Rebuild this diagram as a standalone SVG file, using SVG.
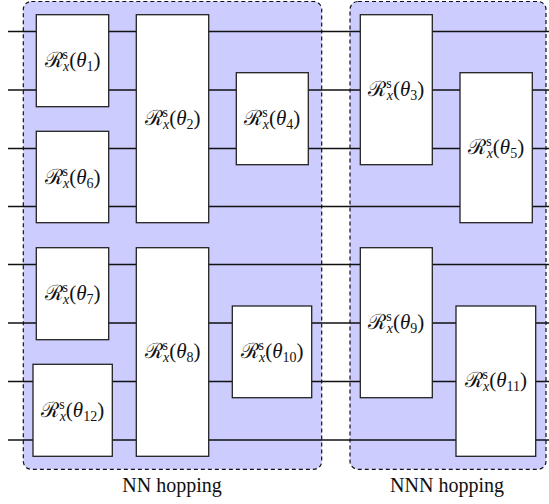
<svg xmlns="http://www.w3.org/2000/svg" width="549" height="504" viewBox="0 0 549 504">
<style>
.bg{fill:#ccccff;stroke:#111;stroke-width:1.2;stroke-dasharray:4 3}
.wire{stroke:#111;stroke-width:1.3;fill:none}
.gate{fill:#fff;stroke:#222;stroke-width:1.3}
text{font-family:'Liberation Serif','Times New Roman',Times,'DejaVu Serif',serif;fill:#111;text-anchor:middle}
.lbl{font-size:21px}
.sm{font-size:14px}
.it{font-style:italic}
.cap{font-size:20px}
</style>
<rect width="549" height="504" fill="#fff"/>
<g id="region-nn">
<rect class="bg" x="23.3" y="1.5" width="298.4" height="467.8" rx="8"/>
<text class="cap" x="172" y="492" font-family="Liberation Serif, serif">NN hopping</text>
</g>
<g id="region-nnn">
<rect class="bg" x="350" y="1.5" width="196" height="467.8" rx="8"/>
<text class="cap" x="447" y="492" font-family="Liberation Serif, serif">NNN hopping</text>
</g>
<g id="wires">
<line class="wire" x1="8" y1="31.5" x2="549" y2="31.5"/>
<line class="wire" x1="8" y1="90" x2="549" y2="90"/>
<line class="wire" x1="8" y1="148.5" x2="549" y2="148.5"/>
<line class="wire" x1="8" y1="206.5" x2="549" y2="206.5"/>
<line class="wire" x1="8" y1="264.5" x2="549" y2="264.5"/>
<line class="wire" x1="8" y1="323" x2="549" y2="323"/>
<line class="wire" x1="8" y1="381.5" x2="549" y2="381.5"/>
<line class="wire" x1="8" y1="440" x2="549" y2="440"/>
</g>
<g id="g1"><rect class="gate" x="36.3" y="14.7" width="72.4" height="92"/>
<text class="lbl" x="72.5" y="67">ℛ<tspan class="sm" dy="-8">s</tspan><tspan class="sm it" dx="-5" dy="12">x</tspan><tspan dy="-4">(</tspan><tspan class="it">θ</tspan><tspan class="sm" dy="4">1</tspan><tspan dy="-4">)</tspan></text></g>
<g id="g6"><rect class="gate" x="36.3" y="131.3" width="72.4" height="91.4"/>
<text class="lbl" x="72.5" y="184">ℛ<tspan class="sm" dy="-8">s</tspan><tspan class="sm it" dx="-5" dy="12">x</tspan><tspan dy="-4">(</tspan><tspan class="it">θ</tspan><tspan class="sm" dy="4">6</tspan><tspan dy="-4">)</tspan></text></g>
<g id="g2"><rect class="gate" x="136.3" y="14.7" width="72.4" height="208"/>
<text class="lbl" x="172.5" y="125">ℛ<tspan class="sm" dy="-8">s</tspan><tspan class="sm it" dx="-5" dy="12">x</tspan><tspan dy="-4">(</tspan><tspan class="it">θ</tspan><tspan class="sm" dy="4">2</tspan><tspan dy="-4">)</tspan></text></g>
<g id="g4"><rect class="gate" x="236.3" y="72.7" width="72" height="92"/>
<text class="lbl" x="272.3" y="125">ℛ<tspan class="sm" dy="-8">s</tspan><tspan class="sm it" dx="-5" dy="12">x</tspan><tspan dy="-4">(</tspan><tspan class="it">θ</tspan><tspan class="sm" dy="4">4</tspan><tspan dy="-4">)</tspan></text></g>
<g id="g3"><rect class="gate" x="360.3" y="14.7" width="72" height="150"/>
<text class="lbl" x="396.3" y="96">ℛ<tspan class="sm" dy="-8">s</tspan><tspan class="sm it" dx="-5" dy="12">x</tspan><tspan dy="-4">(</tspan><tspan class="it">θ</tspan><tspan class="sm" dy="4">3</tspan><tspan dy="-4">)</tspan></text></g>
<g id="g5"><rect class="gate" x="460" y="72.7" width="72.3" height="150"/>
<text class="lbl" x="496.2" y="154">ℛ<tspan class="sm" dy="-8">s</tspan><tspan class="sm it" dx="-5" dy="12">x</tspan><tspan dy="-4">(</tspan><tspan class="it">θ</tspan><tspan class="sm" dy="4">5</tspan><tspan dy="-4">)</tspan></text></g>
<g id="g7"><rect class="gate" x="36.3" y="247.7" width="72.4" height="92"/>
<text class="lbl" x="72.5" y="300">ℛ<tspan class="sm" dy="-8">s</tspan><tspan class="sm it" dx="-5" dy="12">x</tspan><tspan dy="-4">(</tspan><tspan class="it">θ</tspan><tspan class="sm" dy="4">7</tspan><tspan dy="-4">)</tspan></text></g>
<g id="g12"><rect class="gate" x="33" y="364.3" width="79.3" height="92"/>
<text class="lbl" x="72.7" y="417">ℛ<tspan class="sm" dy="-8">s</tspan><tspan class="sm it" dx="-5" dy="12">x</tspan><tspan dy="-4">(</tspan><tspan class="it">θ</tspan><tspan class="sm" dy="4">12</tspan><tspan dy="-4">)</tspan></text></g>
<g id="g8"><rect class="gate" x="136.3" y="247.7" width="72.4" height="208.6"/>
<text class="lbl" x="172.5" y="358">ℛ<tspan class="sm" dy="-8">s</tspan><tspan class="sm it" dx="-5" dy="12">x</tspan><tspan dy="-4">(</tspan><tspan class="it">θ</tspan><tspan class="sm" dy="4">8</tspan><tspan dy="-4">)</tspan></text></g>
<g id="g10"><rect class="gate" x="232.3" y="306" width="79.4" height="91.7"/>
<text class="lbl" x="272" y="358">ℛ<tspan class="sm" dy="-8">s</tspan><tspan class="sm it" dx="-5" dy="12">x</tspan><tspan dy="-4">(</tspan><tspan class="it">θ</tspan><tspan class="sm" dy="4">10</tspan><tspan dy="-4">)</tspan></text></g>
<g id="g9"><rect class="gate" x="360.3" y="247.7" width="72" height="150"/>
<text class="lbl" x="396.3" y="329">ℛ<tspan class="sm" dy="-8">s</tspan><tspan class="sm it" dx="-5" dy="12">x</tspan><tspan dy="-4">(</tspan><tspan class="it">θ</tspan><tspan class="sm" dy="4">9</tspan><tspan dy="-4">)</tspan></text></g>
<g id="g11"><rect class="gate" x="456" y="306" width="79.7" height="150.3"/>
<text class="lbl" x="495.8" y="387">ℛ<tspan class="sm" dy="-8">s</tspan><tspan class="sm it" dx="-5" dy="12">x</tspan><tspan dy="-4">(</tspan><tspan class="it">θ</tspan><tspan class="sm" dy="4">11</tspan><tspan dy="-4">)</tspan></text></g>
</svg>
